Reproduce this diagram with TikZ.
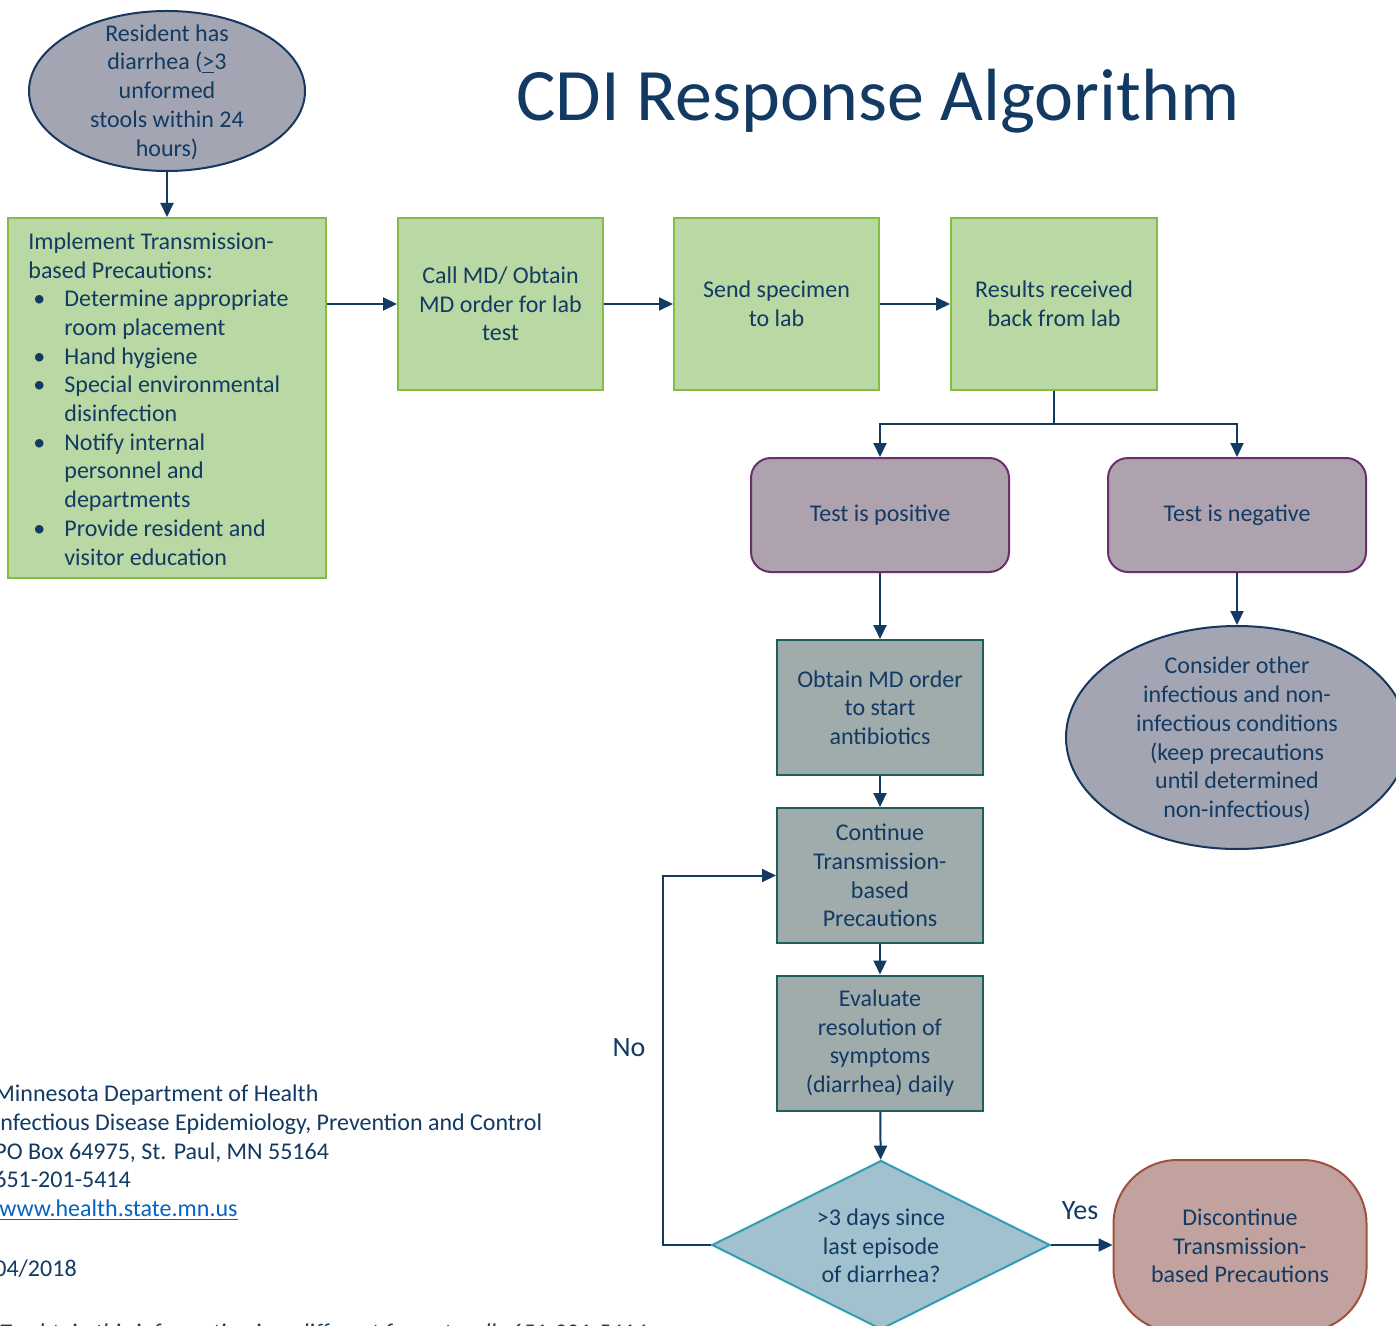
\documentclass[tikz,border=0pt]{standalone}
\usepackage{fontspec}
\setmainfont{Carlito}
\usetikzlibrary{arrows.meta,shapes.geometric}
\definecolor{navy}{HTML}{123A63}
\definecolor{linkblue}{HTML}{0563C1}
\definecolor{grnF}{HTML}{B9D8A3}
\definecolor{grnB}{HTML}{84BD45}
\definecolor{purF}{HTML}{AEA2AF}
\definecolor{purB}{HTML}{6B2F6B}
\definecolor{tealF}{HTML}{A0ABAB}
\definecolor{tealB}{HTML}{1F5E5E}
\definecolor{ellF}{HTML}{A3A6B2}
\definecolor{ellB}{HTML}{17375E}
\definecolor{diaF}{HTML}{A1C1CE}
\definecolor{diaB}{HTML}{2E9DB5}
\definecolor{discF}{HTML}{C1A29E}
\definecolor{discB}{HTML}{A0503C}
\tikzset{
  body/.style={font=\fontsize{12}{14.35}\selectfont, text=navy},
  txt/.style={body, align=center, inner sep=0pt},
  grnbox/.style={txt, rectangle, draw=grnB, fill=grnF, line width=1pt},
  purbox/.style={txt, rectangle, rounded corners=10pt, draw=purB, fill=purF, line width=1pt, minimum width=129pt, minimum height=57pt},
  tealbox/.style={txt, rectangle, draw=tealB, fill=tealF, line width=1pt, minimum width=103pt, minimum height=67.5pt},
  ellshape/.style={ellipse, draw=ellB, fill=ellF, line width=1pt, inner sep=0pt},
  conn/.style={draw=navy, line width=1pt},
  arr/.style={conn, -{Triangle[length=7pt,width=6.5pt]}},
  lbl/.style={font=\fontsize{14}{16}\selectfont, text=navy, inner sep=0pt},
  foot/.style={body, anchor=west, inner sep=0pt, text height=8.5pt, text depth=2.5pt},
}
\begin{document}
\begin{tikzpicture}[x=0.5pt,y=-0.5pt]
\clip (0,0) rectangle (1396,1326);
\fill[white] (0,0) rectangle (1396,1326);

% title
\node[font=\fontsize{37}{44}\selectfont, text=navy, inner sep=0pt] (title) at (878,101) {CDI Response Algorithm};

% start ellipse
\node[ellshape, minimum width=138pt, minimum height=80pt] (start) at (167,91) {};
\node[txt] (startT) at (167,92) {Resident has\\diarrhea (\underline{>}3\\unformed\\stools within 24\\hours)};

% row of green boxes
\node[grnbox, minimum width=159pt, minimum height=180pt] (impl) at (167,398) {};
\node[body, align=left, inner sep=0pt, anchor=west] (implT) at (28,399) {%
Implement Transmission-\\
based Precautions:\\
\makebox[18pt][l]{\hspace{2.5pt}\textbullet}Determine appropriate\\
\hspace*{18pt}room placement\\
\makebox[18pt][l]{\hspace{2.5pt}\textbullet}Hand hygiene\\
\makebox[18pt][l]{\hspace{2.5pt}\textbullet}Special environmental\\
\hspace*{18pt}disinfection\\
\makebox[18pt][l]{\hspace{2.5pt}\textbullet}Notify internal\\
\hspace*{18pt}personnel and\\
\hspace*{18pt}departments\\
\makebox[18pt][l]{\hspace{2.5pt}\textbullet}Provide resident and\\
\hspace*{18pt}visitor education};
\node[grnbox, minimum width=102.5pt, minimum height=86pt] (call) at (500.5,304) {Call MD/ Obtain\\MD order for lab\\test};
\node[grnbox, minimum width=102.5pt, minimum height=86pt] (send) at (776.5,304) {Send specimen\\to lab};
\node[grnbox, minimum width=103pt, minimum height=86pt] (res) at (1054,304) {Results received\\back from lab};

% test result boxes
\node[purbox] (pos) at (880,515) {Test is positive};
\node[purbox] (neg) at (1237,515) {Test is negative};

% positive branch
\node[tealbox] (obt) at (880,707.5) {Obtain MD order\\to start\\antibiotics};
\node[tealbox] (cont) at (880,875.5) {Continue\\Transmission-\\based\\Precautions};
\node[tealbox] (eval) at (880,1043) {Evaluate\\resolution of\\symptoms\\(diarrhea) daily};

% decision
\node[diamond, draw=diaB, fill=diaF, line width=1pt, inner sep=0pt, minimum width=169pt, minimum height=84.5pt] (dia) at (881,1245) {};
\node[txt] (diaT) at (881,1246) {>3 days since\\last episode\\of diarrhea?};

% discontinue
\node[txt, rectangle, rounded corners=32pt, draw=discB, fill=discF, line width=1pt, minimum width=126.5pt, minimum height=86pt] (disc) at (1240,1246) {Discontinue\\Transmission-\\based Precautions};

% negative ellipse
\node[ellshape, minimum width=171pt, minimum height=111.5pt] (negE) at (1237,737.5) {};
\node[txt] (negT) at (1237,739) {Consider other\\infectious and non-\\infectious conditions\\(keep precautions\\until determined\\non-infectious)};

% labels
\node[lbl] (yes) at (1080,1211) {Yes};
\node[lbl] (no) at (629,1048) {No};

% connectors
\draw[arr] (start) -- (impl);
\draw[arr] (impl.east |- call.west) -- (call.west);
\draw[arr] (call) -- (send);
\draw[arr] (send) -- (res);
\coordinate (split) at (1054,424);
\draw[conn] (res) -- (split);
\draw[arr] (split) -| (pos);
\draw[arr] (split) -| (neg);
\draw[arr] (pos) -- (obt);
\draw[arr] (obt) -- (cont);
\draw[arr] (cont) -- (eval);
\draw[arr] (eval) -- (dia);
\draw[arr] (neg) -- (negE);
\draw[arr] (dia.east) -- (dia.east -| disc.west);
\coordinate (noc) at (663,1245);
\draw[arr] (dia.west) -- (noc) |- (cont.west);

% footer
\node[foot] (f1) at (-6,1095) {Minnesota Department of Health};
\node[foot] (f2) at (-6,1124) {Infectious Disease Epidemiology, Prevention and Control};
\node[foot] (f3) at (-6,1153) {PO Box 64975, St. Paul, MN 55164};
\node[foot] (f4) at (-6,1181) {651-201-5414};
\node[foot, text=linkblue] (f5) at (-1,1210) {\underline{www.health.state.mn.us}};
\node[foot] (f6) at (-6,1270) {04/2018};
\node[foot, font=\fontsize{12}{14.35}\selectfont\itshape] (f7) at (-1,1334) {To obtain this information in a different format, call: 651-201-5414};
\end{tikzpicture}
\end{document}
